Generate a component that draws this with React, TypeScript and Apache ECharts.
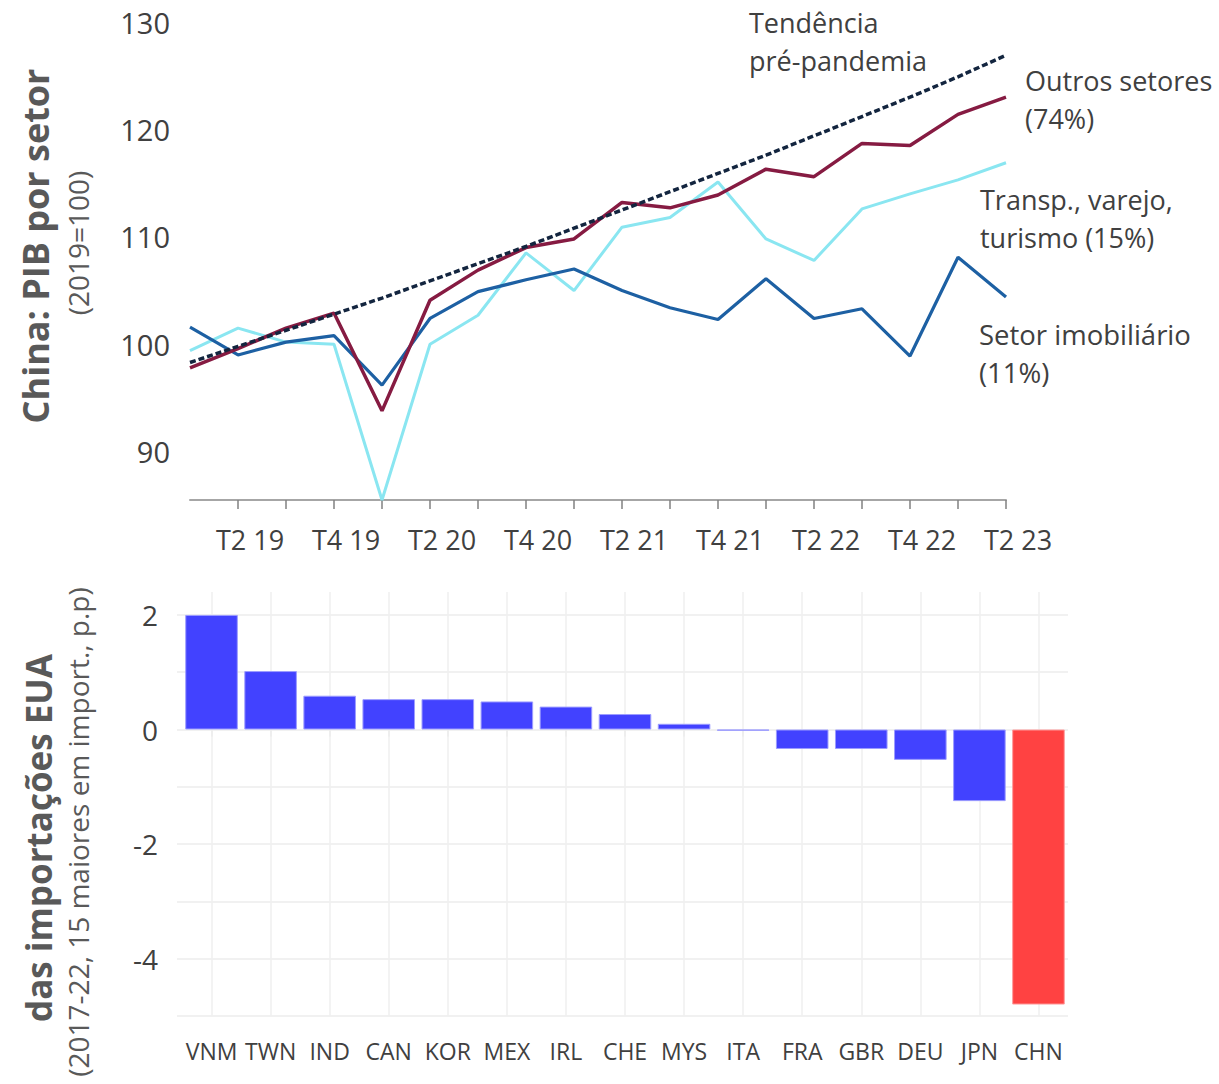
import React, { useEffect, useRef } from "react";
import * as echarts from "echarts";

const quarters = [
  "T1 19", "T2 19", "T3 19", "T4 19",
  "T1 20", "T2 20", "T3 20", "T4 20",
  "T1 21", "T2 21", "T3 21", "T4 21",
  "T1 22", "T2 22", "T3 22", "T4 22",
  "T1 23", "T2 23",
];
const outrosSetores = [97.8, 99.6, 101.5, 102.9, 93.8, 104.1, 106.9, 109.0, 109.8, 113.2, 112.7, 113.9, 116.3, 115.6, 118.7, 118.5, 121.4, 123.0];
const transpVarejo = [99.4, 101.5, 100.2, 100.0, 85.5, 100.0, 102.7, 108.5, 105.0, 110.9, 111.8, 115.1, 109.8, 107.8, 112.6, 114.0, 115.3, 116.9];
const setorImob = [101.6, 99.0, 100.2, 100.8, 96.2, 102.4, 104.9, 106.0, 107.0, 105.0, 103.4, 102.3, 106.1, 102.4, 103.3, 98.9, 108.1, 104.4];
const tendencia = [98.3, 99.8, 101.3, 102.8, 104.3, 105.9, 107.5, 109.1, 110.8, 112.5, 114.2, 115.9, 117.6, 119.4, 121.2, 123.0, 124.9, 126.9];
const topTicks = [90, 100, 110, 120, 130];

const countries = ["VNM", "TWN", "IND", "CAN", "KOR", "MEX", "IRL", "CHE", "MYS", "ITA", "FRA", "GBR", "DEU", "JPN", "CHN"];
const shareChange = [2.0, 1.02, 0.59, 0.53, 0.53, 0.49, 0.4, 0.27, 0.1, -0.02, -0.34, -0.34, -0.53, -1.25, -4.8];
const bottomLabelTicks = [-4, -2, 0, 2];
const bottomGridTicks = [-5, -4, -3, -2, -1, 0, 1, 2];

const FONT = "'Open Sans', 'Noto Sans', sans-serif";
const TXT = "#404040";
const TITLE = "#595959";

export default function App() {
  const ref = useRef<HTMLDivElement>(null);
  useEffect(() => {
    document.body.style.margin = "0";
    if (!ref.current) return;
    const chart = echarts.init(ref.current, undefined, { renderer: "svg" });
    const option: any = {
      animation: false,
      backgroundColor: "#ffffff",
      textStyle: { fontFamily: FONT },
      grid: [
        { left: 190, top: 22, width: 816, height: 478 },
        { left: 182, top: 592, width: 886, height: 424 },
      ],
      xAxis: [
        {
          type: "category",
          gridIndex: 0,
          data: quarters,
          boundaryGap: false,
          axisLine: { show: true, lineStyle: { color: "#a6a6a6", width: 2 } },
          axisTick: {
            show: true,
            interval: (i: number) => i > 0,
            length: 9,
            lineStyle: { color: "#808080", width: 1.5 },
          },
          axisLabel: {
            interval: (i: number) => i % 2 === 1,
            fontSize: 27,
            fontFamily: FONT,
            color: TXT,
            margin: 26,
            padding: [0, 0, 0, 24],
          },
          splitLine: { show: false },
        },
        {
          type: "category",
          gridIndex: 1,
          data: countries,
          axisLine: { show: false },
          axisTick: {
            show: true,
            alignWithLabel: true,
            length: 7,
            lineStyle: { color: "#ececec", width: 1.5 },
          },
          axisLabel: {
            interval: 0,
            fontSize: 23,
            fontFamily: FONT,
            color: TXT,
            margin: 23,
          },
          splitLine: {
            show: true,
            alignWithLabel: true,
            lineStyle: { color: "#efefef", width: 1.5 },
          },
        },
      ],
      yAxis: [
        {
          type: "value",
          gridIndex: 0,
          min: 85.5,
          max: 130,
          axisLine: { show: false },
          axisTick: { show: false, customValues: topTicks },
          splitLine: { show: false },
          axisLabel: {
            customValues: topTicks,
            fontSize: 29,
            fontFamily: FONT,
            color: TXT,
            margin: 20,
          },
        },
        {
          type: "value",
          gridIndex: 1,
          min: -5,
          max: 2.4,
          axisLine: { show: false },
          axisTick: {
            show: true,
            customValues: bottomGridTicks,
            length: 5,
            lineStyle: { color: "#ececec", width: 1.5 },
          },
          splitLine: { show: true, lineStyle: { color: "#ececec", width: 1.5 } },
          axisLabel: {
            customValues: bottomLabelTicks,
            fontSize: 28,
            fontFamily: FONT,
            color: TXT,
            margin: 24,
          },
        },
      ],
      series: [
        {
          name: "Transp., varejo, turismo",
          type: "line",
          xAxisIndex: 0,
          yAxisIndex: 0,
          data: transpVarejo,
          symbol: "none",
          clip: false,
          lineStyle: { color: "#8ae6f1", width: 3 },
        },
        {
          name: "Setor imobiliário",
          type: "line",
          xAxisIndex: 0,
          yAxisIndex: 0,
          data: setorImob,
          symbol: "none",
          lineStyle: { color: "#1d60a3", width: 3.2 },
        },
        {
          name: "Outros setores",
          type: "line",
          xAxisIndex: 0,
          yAxisIndex: 0,
          data: outrosSetores,
          symbol: "none",
          lineStyle: { color: "#861b42", width: 3.5 },
        },
        {
          name: "Tendência pré-pandemia",
          type: "line",
          xAxisIndex: 0,
          yAxisIndex: 0,
          data: tendencia,
          symbol: "none",
          lineStyle: { color: "#13253f", width: 3.5, type: [6, 3] },
        },
        {
          name: "Variação",
          type: "bar",
          xAxisIndex: 1,
          yAxisIndex: 1,
          barCategoryGap: "11%",
          data: shareChange.map((v, i) => ({
            value: v,
            itemStyle: {
              color: countries[i] === "CHN" ? "#ff4242" : "#4242ff",
              borderColor: countries[i] === "CHN" ? "#ff9a9a" : "#9c9cff",
              borderWidth: 1,
            },
          })),
        },
      ],
      graphic: [
        {
          type: "text",
          x: 749,
          y: 3,
          style: { text: "Tendência\npré-pandemia", font: `27px ${FONT}`, lineHeight: 38, fill: TXT },
        },
        {
          type: "text",
          x: 1025,
          y: 61,
          style: { text: "Outros setores\n(74%)", font: `27px ${FONT}`, lineHeight: 38, fill: TXT },
        },
        {
          type: "text",
          x: 980,
          y: 180,
          style: { text: "Transp., varejo,\nturismo (15%)", font: `27px ${FONT}`, lineHeight: 38, fill: TXT },
        },
        {
          type: "text",
          x: 979,
          y: 315,
          style: { text: "Setor imobiliário\n(11%)", font: `27.5px ${FONT}`, lineHeight: 38, fill: TXT },
        },
        {
          type: "text",
          x: 35,
          y: 246,
          rotation: Math.PI / 2,
          style: { text: "China: PIB por setor", font: `bold 36px ${FONT}`, fill: TITLE, align: "center", verticalAlign: "middle" },
        },
        {
          type: "text",
          x: 78,
          y: 243,
          rotation: Math.PI / 2,
          style: { text: "(2019=100)", font: `28px ${FONT}`, fill: TITLE, align: "center", verticalAlign: "middle" },
        },
        {
          type: "text",
          x: 38,
          y: 838,
          rotation: Math.PI / 2,
          style: { text: "das importações EUA", font: `bold 35px ${FONT}`, fill: TITLE, align: "center", verticalAlign: "middle" },
        },
        {
          type: "text",
          x: 78,
          y: 832,
          rotation: Math.PI / 2,
          style: { text: "(2017-22, 15 maiores em import., p.p)", font: `28px ${FONT}`, fill: TITLE, align: "center", verticalAlign: "middle" },
        },
      ],
    };
    chart.setOption(option);
    return () => chart.dispose();
  }, []);
  return <div ref={ref} style={{ width: 1219, height: 1084 }} />;
}
